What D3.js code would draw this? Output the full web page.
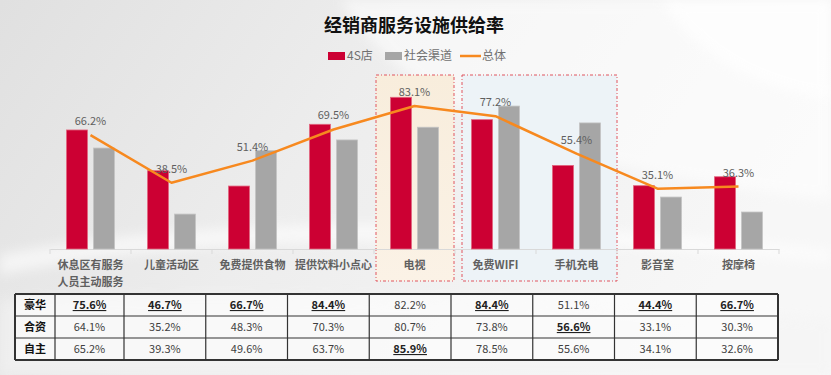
<!DOCTYPE html>
<html>
<head>
<meta charset="utf-8">
<script src="https://cdn.jsdelivr.net/npm/d3@7"></script>
<style>
  html, body { margin: 0; padding: 0; }
  body { width: 831px; height: 375px; overflow: hidden; }
  svg text { font-family: "Microsoft YaHei", "Noto Sans CJK SC", "Noto Sans", sans-serif; }
</style>
</head>
<body>
<svg id="chart"></svg>
<script>
// chart data
const categories = ["休息区有服务\n人员主动服务", "儿童活动区", "免费提供食物", "提供饮料小点心", "电视", "免费WIFI", "手机充电", "影音室", "按摩椅"];
const seriesNames = ["4S店", "社会渠道", "总体"];
const shopValues = [69.2, 45.5, 36.6, 72.5, 88.2, 75.2, 48.6, 36.8, 42.0];   // 4S店
const socialValues = [58.7, 20.3, 57.2, 63.4, 70.8, 83.1, 73.3, 30.2, 21.5]; // 社会渠道
const totalValues = [66.2, 38.5, 51.4, 69.5, 83.1, 77.2, 55.4, 35.1, 36.3];  // 总体

// table below the chart
const rowNames = ["豪华", "合资", "自主"];
const luxuryValues = [75.6, 46.7, 66.7, 84.4, 82.2, 84.4, 51.1, 44.4, 66.7];
const jointValues = [64.1, 35.2, 48.3, 70.3, 80.7, 73.8, 56.6, 33.1, 30.3];
const ownValues = [65.2, 39.3, 49.6, 63.7, 85.9, 78.5, 55.6, 34.1, 32.6];

// highlighted groups (category index ranges)
const highlights = [
    { from: 4, to: 4, fill: "url(#warmFill)" },
    { from: 5, to: 6, fill: "#edf3f7" }
];

const COLORS = { shop: "#cc0033", social: "#a6a6a6", total: "#f7891f" };

const width = 831, height = 375;
const svg = d3.select("#chart").attr("width", width).attr("height", height);

//background
const defs = svg.append("defs");
const bg = defs.append("linearGradient").attr("id", "bgGrad")
    .attr("x1", "0").attr("y1", "0").attr("x2", "1").attr("y2", "0.3");
bg.append("stop").attr("offset", "0").attr("stop-color", "#e0e0e0");
bg.append("stop").attr("offset", "0.45").attr("stop-color", "#ededed");
bg.append("stop").attr("offset", "1").attr("stop-color", "#f7f7f7");

const warm = defs.append("linearGradient").attr("id", "warmFill")
    .attr("x1", "0").attr("y1", "0").attr("x2", "0").attr("y2", "1");
warm.append("stop").attr("offset", "0").attr("stop-color", "#f8eddc");
warm.append("stop").attr("offset", "1").attr("stop-color", "#fbf2e6");

const glow = defs.append("filter").attr("id", "soft").attr("x", "-20%").attr("y", "-20%")
    .attr("width", "140%").attr("height", "140%");
glow.append("feGaussianBlur").attr("stdDeviation", 6);

svg.append("rect").attr("width", width).attr("height", height).attr("fill", "url(#bgGrad)");

//white swooshes in the background
svg.append("path")
    .attr("d", "M340,0 C420,120 560,170 831,200 L831,0 Z")
    .attr("fill", "#ffffff").attr("opacity", 0.55).attr("filter", "url(#soft)");
svg.append("path")
    .attr("d", "M660,0 C700,60 760,90 831,100 L831,0 Z")
    .attr("fill", "#ffffff").attr("opacity", 0.7).attr("filter", "url(#soft)");
svg.append("path")
    .attr("d", "M0,255 C200,215 500,215 831,250 L831,262 C500,232 200,232 0,275 Z")
    .attr("fill", "#ffffff").attr("opacity", 0.6).attr("filter", "url(#soft)");
svg.append("path")
    .attr("d", "M0,300 C250,290 560,300 831,320 L831,375 L0,375 Z")
    .attr("fill", "#f4f4f4").attr("opacity", 0.6).attr("filter", "url(#soft)");

//scales
const x = d3.scaleBand().domain(d3.range(categories.length)).range([50, 779]);
const xSub = d3.scaleBand().domain(["shop", "social"]).range([16.5, 64.5]).paddingInner(0.222);
const y = d3.scaleLinear().domain([0, 100]).range([249, 77]);

//highlight boxes
svg.append("g").selectAll("rect")
    .data(highlights)
    .join("rect")
    .attr("x", (d, i) => x(d.from) + (i === 0 ? 2 : 7))
    .attr("y", 75)
    .attr("width", (d, i) => x(d.to) + x.bandwidth() - x(d.from) - (i === 0 ? 3 : 7))
    .attr("height", 206)
    .attr("fill", d => d.fill)
    .attr("stroke", "#e0545f")
    .attr("stroke-width", 1)
    .attr("stroke-dasharray", "3,2,1,2");

//axis
const axis = svg.append("g")
    .attr("transform", `translate(0,${y(0)})`)
    .call(d3.axisBottom(x).tickSize(0).tickFormat(""));
axis.select(".domain").attr("stroke", "#d9d9d9").attr("stroke-width", 1.2);
axis.append("g").selectAll("line")
    .data(d3.range(categories.length + 1))
    .join("line")
    .attr("x1", i => i < categories.length ? x(i) : x(i - 1) + x.bandwidth())
    .attr("x2", i => i < categories.length ? x(i) : x(i - 1) + x.bandwidth())
    .attr("y1", 0).attr("y2", 5)
    .attr("stroke", "#d9d9d9");

//bars
const barData = [];
categories.forEach((c, i) => {
    barData.push({ i, key: "shop", value: shopValues[i] });
    barData.push({ i, key: "social", value: socialValues[i] });
});
svg.append("g").selectAll("rect")
    .data(barData)
    .join("rect")
    .attr("x", d => x(d.i) + xSub(d.key))
    .attr("y", d => y(d.value))
    .attr("width", xSub.bandwidth())
    .attr("height", d => y(0) - y(d.value))
    .attr("fill", d => COLORS[d.key])
    .attr("stroke", d => d.key === "shop" ? "#e2667f" : "#c4c4c4")
    .attr("stroke-width", 0.8);

//total line
const line = d3.line()
    .x((d, i) => x(i) + x.bandwidth() / 2)
    .y(d => y(d));
svg.append("path")
    .datum(totalValues)
    .attr("d", line)
    .attr("fill", "none")
    .attr("stroke", COLORS.total)
    .attr("stroke-width", 2.5)
    .attr("stroke-linejoin", "round");

svg.append("g").selectAll("text")
    .data(totalValues)
    .join("text")
    .attr("x", (d, i) => x(i) + x.bandwidth() / 2)
    .attr("y", d => y(d) - 10)
    .attr("text-anchor", "middle")
    .style("font-size", "11px")
    .style("fill", "#5f5f5f")
    .text(d => d.toFixed(1) + "%");

//category labels
const catLabels = svg.append("g").selectAll("text")
    .data(categories)
    .join("text")
    .attr("x", (d, i) => x(i) + x.bandwidth() / 2)
    .attr("y", 269)
    .attr("text-anchor", "middle")
    .style("font-size", "11px")
    .style("font-weight", "600")
    .style("fill", "#606060");
catLabels.selectAll("tspan")
    .data(d => d.split("\n"))
    .join("tspan")
    .attr("x", function () { return d3.select(this.parentNode).attr("x"); })
    .attr("dy", (d, i) => i === 0 ? 0 : 17)
    .text(d => d);

//title
svg.append("text")
    .attr("x", 414).attr("y", 32)
    .attr("text-anchor", "middle")
    .style("font-size", "18px")
    .style("font-weight", "bold")
    .style("fill", "#111")
    .text("经销商服务设施供给率");

//legend
const legend = svg.append("g").attr("transform", "translate(328,56)");
const legendItems = [
    { name: seriesNames[0], color: COLORS.shop, type: "rect", x: 0 },
    { name: seriesNames[1], color: COLORS.social, type: "rect", x: 57 },
    { name: seriesNames[2], color: COLORS.total, type: "line", x: 132 }
];
legendItems.forEach(it => {
    const g = legend.append("g").attr("transform", `translate(${it.x},0)`);
    if (it.type === "rect") {
        g.append("rect").attr("x", 0).attr("y", -4).attr("width", 17).attr("height", 8).attr("fill", it.color);
    } else {
        g.append("line").attr("x1", 0).attr("x2", 21).attr("y1", 0).attr("y2", 0)
            .attr("stroke", it.color).attr("stroke-width", 2.5);
    }
    g.append("text")
        .attr("x", it.type === "rect" ? 19 : 22).attr("y", 4)
        .style("font-size", "12px")
        .style("fill", "#707070")
        .text(it.name);
});

//table
const tableRows = [luxuryValues, jointValues, ownValues];
const colMax = categories.map((c, i) => d3.max(tableRows, r => r[i]));
const tx = d3.scaleLinear().domain([0, 1, 9]).range([55, 124, 778]);
const ty = d3.scaleBand().domain(d3.range(rowNames.length)).range([294, 360]);
const table = svg.append("g");

table.append("rect")
    .attr("x", 15).attr("y", ty(0))
    .attr("width", tx(9) - 15).attr("height", ty.step() * rowNames.length)
    .attr("fill", "#ffffff").attr("fill-opacity", 0.55);

//grid lines
table.selectAll("line.h")
    .data(d3.range(rowNames.length + 1))
    .join("line")
    .attr("class", "h")
    .attr("x1", 15).attr("x2", tx(9))
    .attr("y1", i => ty(0) + i * ty.step())
    .attr("y2", i => ty(0) + i * ty.step())
    .attr("stroke", "#333")
    .attr("stroke-width", i => (i === 0 || i === rowNames.length) ? 2 : 1.2);
table.selectAll("line.v")
    .data(d3.range(-1, categories.length + 1))
    .join("line")
    .attr("class", "v")
    .attr("x1", i => i < 0 ? 15 : tx(i))
    .attr("x2", i => i < 0 ? 15 : tx(i))
    .attr("y1", ty(0)).attr("y2", ty(0) + ty.step() * rowNames.length)
    .attr("stroke", "#333")
    .attr("stroke-width", i => (i < 0 || i === categories.length) ? 2 : 1.2);

//row headers
table.selectAll("text.rh")
    .data(rowNames)
    .join("text")
    .attr("class", "rh")
    .attr("x", 35)
    .attr("y", (d, i) => ty(i) + ty.bandwidth() / 2 + 4)
    .attr("text-anchor", "middle")
    .style("font-size", "11px")
    .style("font-weight", "bold")
    .style("fill", "#111")
    .text(d => d);

//cell values, the column max is bold + underlined
tableRows.forEach((row, r) => {
    table.append("g").selectAll("text")
        .data(row)
        .join("text")
        .attr("x", (d, i) => (tx(i) + tx(i + 1)) / 2)
        .attr("y", ty(r) + ty.bandwidth() / 2 + 4)
        .attr("text-anchor", "middle")
        .style("font-size", "11px")
        .style("font-weight", (d, i) => d === colMax[i] ? "bold" : "normal")
        .style("text-decoration", (d, i) => d === colMax[i] ? "underline" : "none")
        .style("fill", (d, i) => d === colMax[i] ? "#222" : "#404040")
        .text(d => d.toFixed(1) + "%");
});
</script>
</body>
</html>
